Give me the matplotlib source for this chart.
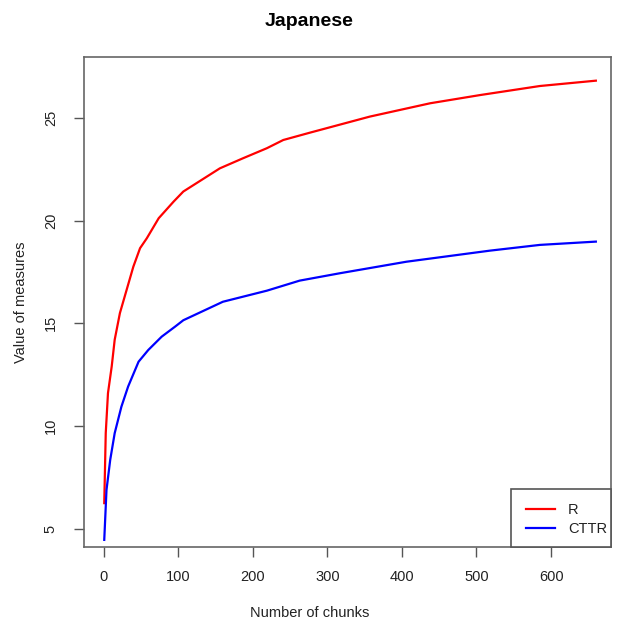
import matplotlib
matplotlib.use("Agg")
import matplotlib.pyplot as plt
from matplotlib.patches import Rectangle

plt.rcParams["font.family"] = ["Liberation Sans", "DejaVu Sans"]

# values
r_chunks = [1, 3, 6, 11, 15, 22, 31, 40, 49, 58, 74, 94, 107, 156, 187, 219, 241, 277,
            357, 438, 505, 585, 660]
r_values = [6.24, 9.65, 11.6, 12.9, 14.2, 15.5, 16.63, 17.76, 18.66, 19.14, 20.12, 20.93,
            21.42, 22.55, 23.04, 23.53, 23.93, 24.29, 25.07, 25.72, 26.12, 26.56, 26.82]

cttr_chunks = [1, 4, 9, 15, 24, 33, 47, 60, 78, 96, 107, 160, 219, 263, 317, 406, 518,
               585, 660]
cttr_values = [4.45, 6.88, 8.35, 9.65, 10.94, 11.92, 13.13, 13.7, 14.35, 14.84, 15.15,
               16.05, 16.59, 17.08, 17.44, 18.0, 18.54, 18.82, 18.98]

x_ticks = [0, 100, 200, 300, 400, 500, 600]
y_ticks = [5, 10, 15, 20, 25]

fig = plt.figure(figsize=(6.19, 6.22), dpi=100)
ax = fig.add_axes([0.136, 0.1198, 0.8507, 0.7878])

ax.plot(r_chunks, r_values, color="red", lw=1.6, label="R")
ax.plot(cttr_chunks, cttr_values, color="blue", lw=1.6, label="CTTR")

ax.set_xlim(-25.9, 680)
ax.set_ylim(4.08, 27.95)
ax.set_xticks(x_ticks)
ax.set_yticks(y_ticks)
ax.set_yticklabels([str(v) for v in y_ticks], rotation=90, va="center")

for sp in ax.spines.values():
    sp.set_color("#666666")
    sp.set_linewidth(1.2)
ax.tick_params(axis="both", length=7, width=1.0, color="#555555", labelsize=10.5,
               labelcolor="#222222")
ax.tick_params(axis="x", pad=9)
ax.tick_params(axis="y", pad=12)

fig.text(0.5, 1 - 21 / 622, "Japanese", ha="center", va="center", fontsize=14,
         fontweight="bold")
fig.text(0.5, 1 - 613 / 622, "Number of chunks", ha="center", va="center", fontsize=10.5,
         color="#222222")
fig.text(21 / 619, 0.5 * (0.1198 * 2 + 0.7878), "Value of measures", ha="center",
         va="center", rotation=90, fontsize=10.5, color="#222222")

# R-style legend box: tight on the right, wider padding on the left
ax.add_patch(Rectangle((0.8105, 0.0), 0.1895, 0.1184, transform=ax.transAxes,
                       facecolor="white", edgecolor="#555555", lw=1.2, zorder=4,
                       clip_on=False))
leg = ax.legend(loc="upper left", bbox_to_anchor=(0.8384, 0.0908), borderaxespad=0,
                borderpad=0, fontsize=10.5, frameon=False, handlelength=2.0,
                handletextpad=0.9, labelspacing=0.35)
leg.set_zorder(5)
for t in leg.get_texts():
    t.set_color("#222222")

fig.savefig("out.png", dpi=100)
